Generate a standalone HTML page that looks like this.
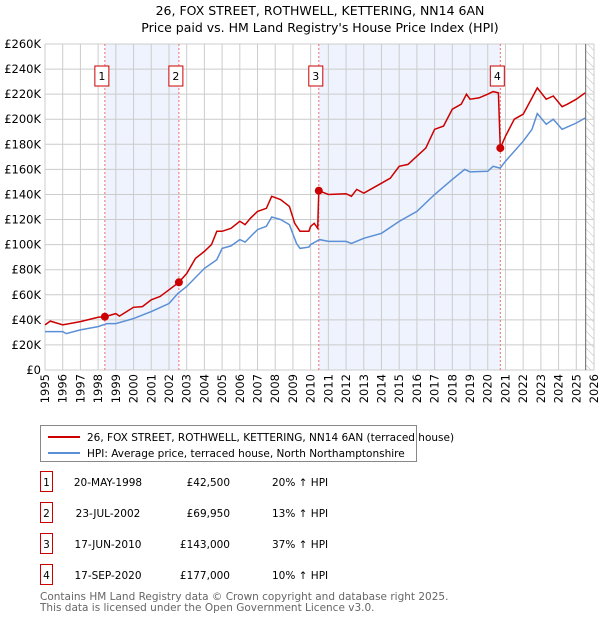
<!DOCTYPE html>
<html><head><meta charset="utf-8"><style>
body{margin:0;background:#fff;font-family:"Liberation Sans","DejaVu Sans",sans-serif;}
svg text{font-family:"DejaVu Sans","Liberation Sans",sans-serif;}
</style></head><body>
<svg id="chart" width="600" height="620" xmlns="http://www.w3.org/2000/svg">
<defs><pattern id="hatch" width="6" height="6" patternUnits="userSpaceOnUse" patternTransform="rotate(-45)"><line x1="0" y1="0" x2="0" y2="6" stroke="#bbb" stroke-width="1"/></pattern></defs>
<text x="320" y="15" text-anchor="middle" font-size="12.5">26, FOX STREET, ROTHWELL, KETTERING, NN14 6AN</text>
<text x="320" y="32" text-anchor="middle" font-size="12.5">Price paid vs. HM Land Registry's House Price Index (HPI)</text>
<g id="plot"></g>
<g>
<rect x="40.5" y="425.5" width="376" height="36" fill="#fff" stroke="#888"/>
<line x1="48" y1="437" x2="80" y2="437" stroke="#cc0000" stroke-width="2"/>
<text x="87" y="441" font-size="10.5">26, FOX STREET, ROTHWELL, KETTERING, NN14 6AN (terraced house)</text>
<line x1="48" y1="453" x2="80" y2="453" stroke="#5b8fd6" stroke-width="2"/>
<text x="87" y="457" font-size="10.5">HPI: Average price, terraced house, North Northamptonshire</text>
</g>
<g id="table" font-size="10.5"></g>
<text x="40" y="600" font-size="10.5" fill="#666">Contains HM Land Registry data © Crown copyright and database right 2025.</text>
<text x="40" y="611" font-size="10.5" fill="#666">This data is licensed under the Open Government Licence v3.0.</text>
</svg>
<script>
const hpiYears=[1995,1996,1996.2,1997,1998,1998.5,1999,2000,2001,2002,2002.5,2003,2004,2004.7,2005,2005.5,2006,2006.3,2007,2007.5,2007.8,2008.3,2008.8,2009.2,2009.4,2009.9,2010,2010.5,2011,2012,2012.3,2013,2014,2015,2016,2017,2018,2018.7,2019,2020,2020.3,2020.7,2021,2022,2022.5,2022.8,2023.3,2023.7,2024.2,2025,2025.5];
const hpiValues=[30.6,30.6,29,32,34.6,37,37,41,46.6,53,61,66.6,81,88,97,99,104,102,112,114.6,122,120,116,101,97,98,100,104,102.6,102.6,101,105,109,118.5,126.5,140,152,160,158,158.5,162.5,161,166.5,182.5,192,204.6,196,200,192,197,201];
const priceYears=[1995,1995.3,1996,1997,1998,1998.38,1999,1999.2,2000,2000.5,2001,2001.5,2002,2002.56,2003,2003.5,2004,2004.4,2004.7,2005,2005.5,2006,2006.3,2006.6,2007,2007.5,2007.8,2008.3,2008.8,2009.1,2009.4,2009.9,2010,2010.2,2010.4,2010.46,2011,2012,2012.3,2012.6,2013,2013.5,2014,2014.5,2015,2015.5,2016,2016.5,2017,2017.5,2018,2018.5,2018.8,2019,2019.5,2020,2020.3,2020.6,2020.71,2021,2021.5,2022,2022.5,2022.8,2023.3,2023.7,2024.2,2024.5,2025,2025.5];
const priceValues=[36,39,36,38.6,42,42.5,45,43,50,50.6,56,58.6,64,69.95,77,89,94.6,100,110.6,110.6,113,118.6,116,121,126.5,129,138.5,136,130.5,117,110.6,110.6,114.5,117,113,143,140,140.6,138.5,144,141,145,149,153,162.5,164,170.5,177,192,194.5,208,212,220,216,217,220,222,221,177,186.5,200,204,217,225,216,218.5,210,212,216,221];
const saleYears=[2002.56-4.18,2002.56,2010.46,2020.71];
const saleValues=[42.5,69.95,143,177];
const saleLabels=["1","2","3","4"];
const saleDates=["20-MAY-1998","23-JUL-2002","17-JUN-2010","17-SEP-2020"];
const salePrices=["£42,500","£69,950","£143,000","£177,000"];
const saleHpi=["20% ↑ HPI","13% ↑ HPI","37% ↑ HPI","10% ↑ HPI"];
const yTicks=[0,20,40,60,80,100,120,140,160,180,200,220,240,260];
const xTicks=[];for(let y=1995;y<=2026;y++)xTicks.push(y);
const X0=45,X1=594,Y0=370,Y1=44,xmin=1995,xmax=2026,ymax=260,dataEnd=2025.53;
const sx=v=>X0+(v-xmin)/(xmax-xmin)*(X1-X0);
const sy=v=>Y0-v/ymax*(Y0-Y1);
const NS="http://www.w3.org/2000/svg";
const plot=document.getElementById('plot');
function mk(tag,attrs,parent){const e=document.createElementNS(NS,tag);for(const k in attrs)e.setAttribute(k,attrs[k]);(parent||plot).appendChild(e);return e;}
let e;
e=mk('rect',{x:sx(saleYears[0]),y:Y1,width:sx(saleYears[1])-sx(saleYears[0]),height:Y0-Y1,fill:'#eef3fd'});


e=mk('rect',{x:sx(saleYears[2]),y:Y1,width:sx(saleYears[3])-sx(saleYears[2]),height:Y0-Y1,fill:'#eef3fd'});


e=mk('rect',{x:sx(dataEnd),y:Y1,width:X1-sx(dataEnd),height:Y0-Y1,fill:'url(#hatch)'});


yTicks.forEach(v=>{
 e=mk('line',{x1:X0,x2:X1,y1:sy(v),y2:sy(v),stroke:'#ccc','stroke-width':1});
 
 
 e=mk('text',{x:X0-4,y:sy(v)+4,'text-anchor':'end','font-size':'11.5'});e.textContent=v===0?'£0':'£'+v+'K';
 
 
});
xTicks.forEach(v=>{
 e=mk('line',{x1:sx(v),x2:sx(v),y1:Y1,y2:Y0,stroke:'#ccc','stroke-width':1});
 
 
 e=mk('text',{x:0,y:0,'text-anchor':'end','font-size':'11.5',transform:`translate(${sx(v)+4},${Y0+4}) rotate(-90)`});e.textContent=v;
 
 
});
e=mk('line',{x1:sx(dataEnd),x2:sx(dataEnd),y1:Y1,y2:Y0,stroke:'#666','stroke-width':1});


saleYears.forEach((v,i)=>{
 e=mk('line',{x1:sx(v),x2:sx(v),y1:Y1,y2:Y0,stroke:'#f07070','stroke-width':1,'stroke-dasharray':'2,2'});
 
 
});
const path=(xs,ys)=>xs.map((x,i)=>(i?'L':'M')+sx(x).toFixed(1)+','+sy(ys[i]).toFixed(1)).join('');
e=mk('path',{d:path(hpiYears,hpiValues),fill:'none',stroke:'#5b8fd6','stroke-width':1.5});


e=mk('path',{d:path(priceYears,priceValues),fill:'none',stroke:'#cc0000','stroke-width':1.5});


saleYears.forEach((v,i)=>{
 e=mk('circle',{cx:sx(v),cy:sy(saleValues[i]),r:4,fill:'#cc0000'});
 
 
 const cx=sx(v)-3;
 e=mk('rect',{x:cx-7,y:66,width:14,height:20,fill:'#fff',stroke:'#cc0000'});
 
 
 e=mk('text',{x:cx,y:80,'text-anchor':'middle','font-size':'11'});e.textContent=saleLabels[i];
 
 
});
const tb=document.getElementById('table');
saleLabels.forEach((l,i)=>{
 const y=483+i*31;
 e=mk('rect',{x:40.5,y:y-11.5,width:12,height:20,fill:'#fff',stroke:'#cc0000'},tb);
 
 
 e=mk('text',{x:46.5,y:y+3,'text-anchor':'middle'},tb);e.textContent=l;
 
 
 e=mk('text',{x:108,y:y+3,'text-anchor':'middle'},tb);e.textContent=saleDates[i];
 
 
 e=mk('text',{x:230,y:y+3,'text-anchor':'end'},tb);e.textContent=salePrices[i];
 
 
 e=mk('text',{x:272,y:y+3},tb);e.textContent=saleHpi[i];
 
 
});
</script>
</body></html>
